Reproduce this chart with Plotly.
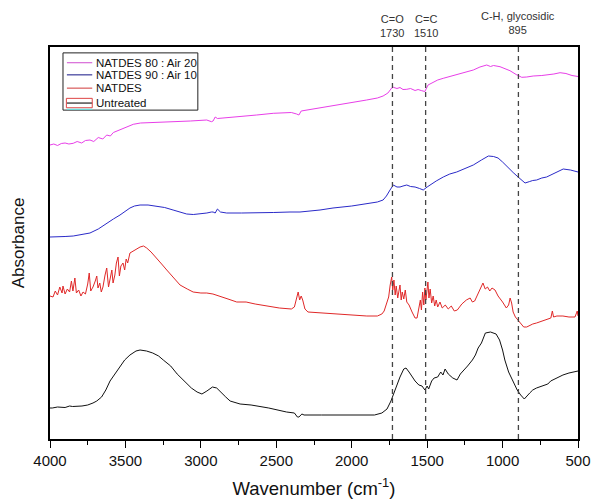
import plotly.graph_objects as go

# ---------------- data ----------------
series_names = ["NATDES 80 : Air 20", "NATDES 90 : Air 10", "NATDES", "Untreated"]
series_colors = ["#e83ee8", "#2a2ac8", "#e02828", "#111111"]
legend_colors = ["#d86ad8", "#3a3a9a", "#d85a5a", "#222222"]

wn_untreated = [4000, 3985, 3950, 3900, 3870, 3850, 3788, 3750, 3715, 3690, 3658, 3630, 3602, 3570,
                3542, 3505, 3470, 3430, 3403, 3360, 3319, 3280, 3249, 3200, 3157, 3110, 3063, 3025,
                2993, 2960, 2923, 2895, 2865, 2835, 2806, 2740, 2667, 2550, 2432, 2380, 2360, 2350,
                2330, 2316, 2200, 2083, 1950, 1849, 1800, 1766, 1740, 1709, 1680, 1655, 1640, 1620,
                1600, 1580, 1555, 1534, 1515, 1500, 1490, 1470, 1454, 1430, 1410, 1395, 1381, 1360,
                1330, 1302, 1280, 1255, 1232, 1200, 1180, 1162, 1140, 1114, 1080, 1043, 1020, 1000,
                985, 960, 930, 903, 880, 856, 820, 800, 775, 740, 700, 681, 640, 600, 560, 530, 500]
abs_untreated = [0.31, 0.31, 0.32, 0.315, 0.33, 0.325, 0.33, 0.34, 0.36, 0.38, 0.42, 0.49, 0.58, 0.65,
                 0.72, 0.79, 0.84, 0.88, 0.89, 0.88, 0.86, 0.83, 0.79, 0.73, 0.65, 0.58, 0.51, 0.47,
                 0.45, 0.48, 0.52, 0.51, 0.47, 0.42, 0.38, 0.35, 0.34, 0.31, 0.27, 0.26, 0.22, 0.22,
                 0.25, 0.24, 0.24, 0.24, 0.24, 0.24, 0.26, 0.30, 0.38, 0.51, 0.62, 0.70, 0.71, 0.67,
                 0.62, 0.58, 0.54, 0.53, 0.49, 0.53, 0.50, 0.58, 0.61, 0.62, 0.67, 0.64, 0.70, 0.65,
                 0.61, 0.59, 0.65, 0.69, 0.73, 0.79, 0.84, 0.91, 0.96, 1.06, 1.07, 1.05, 0.99, 0.89,
                 0.79, 0.67, 0.57, 0.49, 0.44, 0.40, 0.46, 0.49, 0.51, 0.53, 0.55, 0.58, 0.61, 0.64,
                 0.66, 0.67, 0.68]

wn_natdes = [4000, 3980, 3965, 3950, 3935, 3920, 3914, 3900, 3885, 3870, 3858, 3848, 3835, 3825,
             3810, 3795, 3781, 3765, 3750, 3740, 3730, 3715, 3700, 3690, 3682, 3670, 3660, 3649,
             3635, 3624, 3612, 3600, 3590, 3582, 3570, 3560, 3549, 3540, 3530, 3516, 3505, 3495,
             3485, 3470, 3440, 3403, 3380, 3359, 3330, 3293, 3260, 3226, 3180, 3138, 3090, 3051,
             3000, 2961, 2920, 2873, 2820, 2762, 2700, 2640, 2560, 2480, 2400, 2380, 2365, 2355,
             2345, 2335, 2325, 2310, 2290, 2200, 2100, 2000, 1900, 1830, 1800, 1785, 1770, 1755,
             1745, 1735, 1728, 1720, 1712, 1705, 1695, 1688, 1680, 1672, 1665, 1655, 1645, 1635,
             1620, 1600, 1580, 1567, 1555, 1545, 1538, 1530, 1522, 1515, 1508, 1500, 1495, 1488,
             1480, 1470, 1460, 1450, 1440, 1430, 1415, 1400, 1380, 1360, 1340, 1320, 1300, 1270,
             1240, 1215, 1200, 1185, 1170, 1150, 1130, 1115, 1100, 1085, 1070, 1050, 1030, 1000,
             975, 960, 950, 940, 930, 915, 900, 880, 860, 840, 800, 775, 740, 700, 680, 670, 662,
             640, 600, 560, 520, 505, 500]
abs_natdes = [1.43, 1.42, 1.48, 1.44, 1.52, 1.46, 1.53, 1.45, 1.50, 1.47, 1.58, 1.48, 1.61, 1.46,
              1.49, 1.43, 1.47, 1.45, 1.55, 1.66, 1.48, 1.52, 1.58, 1.63, 1.51, 1.56, 1.47, 1.52,
              1.64, 1.71, 1.52, 1.60, 1.69, 1.56, 1.64, 1.76, 1.82, 1.63, 1.73, 1.76, 1.69, 1.80,
              1.76, 1.86, 1.89, 1.92, 1.93, 1.91, 1.87, 1.81, 1.75, 1.69, 1.61, 1.54, 1.50, 1.47,
              1.46, 1.46, 1.45, 1.43, 1.40, 1.37, 1.37, 1.35, 1.33, 1.31, 1.30, 1.32, 1.41, 1.47,
              1.39, 1.43, 1.39, 1.30, 1.27, 1.26, 1.25, 1.24, 1.23, 1.23, 1.25, 1.28, 1.34, 1.42,
              1.54, 1.62, 1.49, 1.59, 1.44, 1.53, 1.41, 1.49, 1.54, 1.39, 1.47, 1.40, 1.49, 1.37,
              1.34, 1.27, 1.21, 1.21, 1.31, 1.39, 1.29, 1.47, 1.34, 1.51, 1.39, 1.56, 1.57, 1.41,
              1.50, 1.36, 1.43, 1.33, 1.39, 1.32, 1.37, 1.31, 1.34, 1.30, 1.33, 1.28, 1.29, 1.35,
              1.39, 1.41, 1.37, 1.38, 1.43, 1.49, 1.56, 1.50, 1.52, 1.48, 1.51, 1.49, 1.43, 1.37,
              1.31, 1.34, 1.41, 1.36, 1.27, 1.22, 1.19, 1.15, 1.12, 1.12, 1.15, 1.16, 1.18, 1.20,
              1.21, 1.28, 1.22, 1.23, 1.23, 1.22, 1.22, 1.28, 1.23]

wn_n90 = [4000, 3990, 3900, 3846, 3790, 3735, 3680, 3624, 3580, 3536, 3500, 3470, 3440, 3403, 3350,
          3293, 3240, 3184, 3140, 3094, 3050, 3006, 2960, 2930, 2919, 2905, 2890, 2870, 2829, 2730,
          2630, 2520, 2409, 2343, 2210, 2124, 2000, 1901, 1830, 1792, 1770, 1746, 1724, 1700, 1680,
          1660, 1635, 1610, 1580, 1550, 1526, 1500, 1481, 1440, 1393, 1350, 1304, 1250, 1194, 1140,
          1094, 1060, 1030, 1000, 963, 930, 897, 870, 851, 820, 800, 774, 740, 708, 650, 598, 550,
          508, 500]
abs_n90 = [2.02, 2.02, 2.025, 2.03, 2.045, 2.06, 2.10, 2.16, 2.20, 2.24, 2.28, 2.31, 2.33, 2.34, 2.34,
           2.33, 2.315, 2.29, 2.27, 2.25, 2.245, 2.25, 2.26, 2.27, 2.27, 2.26, 2.30, 2.27, 2.26, 2.26,
           2.26, 2.265, 2.27, 2.27, 2.29, 2.31, 2.33, 2.35, 2.37, 2.39, 2.43, 2.49, 2.54, 2.52, 2.52,
           2.53, 2.54, 2.525, 2.52, 2.505, 2.49, 2.52, 2.54, 2.58, 2.62, 2.65, 2.67, 2.705, 2.74, 2.79,
           2.83, 2.825, 2.81, 2.77, 2.71, 2.665, 2.62, 2.58, 2.56, 2.575, 2.585, 2.59, 2.61, 2.62,
           2.66, 2.70, 2.69, 2.67, 2.67]

wn_n80 = [4000, 3975, 3950, 3925, 3900, 3875, 3846, 3820, 3790, 3765, 3735, 3710, 3680, 3650, 3624,
          3600, 3580, 3536, 3490, 3448, 3400, 3337, 3260, 3184, 3070, 2961, 2930, 2919, 2905, 2890,
          2800, 2740, 2630, 2520, 2400, 2365, 2350, 2335, 2210, 2124, 2000, 1901, 1830, 1792, 1760,
          1735, 1724, 1700, 1680, 1660, 1635, 1610, 1580, 1560, 1536, 1515, 1494, 1460, 1430, 1393,
          1340, 1282, 1240, 1194, 1150, 1105, 1080, 1060, 1017, 985, 951, 910, 873, 840, 797, 740,
          700, 660, 619, 580, 540, 508, 500]
abs_n80 = [2.94, 2.95, 2.935, 2.955, 2.96, 2.95, 2.957, 2.975, 2.96, 2.985, 2.99, 2.975, 3.015, 3.00,
           3.04, 3.03, 3.065, 3.09, 3.12, 3.147, 3.16, 3.163, 3.17, 3.173, 3.18, 3.19, 3.173, 3.18,
           3.22, 3.205, 3.215, 3.223, 3.24, 3.257, 3.265, 3.25, 3.24, 3.28, 3.31, 3.33, 3.36, 3.39,
           3.41, 3.43, 3.46, 3.51, 3.517, 3.505, 3.515, 3.495, 3.497, 3.505, 3.485, 3.495, 3.483,
           3.475, 3.54, 3.57, 3.59, 3.607, 3.63, 3.65, 3.67, 3.69, 3.72, 3.74, 3.725, 3.735, 3.723,
           3.705, 3.683, 3.645, 3.617, 3.62, 3.63, 3.635, 3.64, 3.65, 3.663, 3.655, 3.635, 3.63,
           3.625]

band_positions = [1730, 1510, 895]
band_labels = ["C=O<br>1730", "C=C<br>1510", "C-H, glycosidic<br>895"]

x_tick_values = [4000, 3500, 3000, 2500, 2000, 1500, 1000, 500]
x_tick_labels = ["4000", "3500", "3000", "2500", "2000", "1500", "1000", "500"]

# ---------------- figure ----------------
FONT = "Liberation Sans, Arial, sans-serif"
fig = go.Figure()

all_x = [wn_n80, wn_n90, wn_natdes, wn_untreated]
all_y = [abs_n80, abs_n90, abs_natdes, abs_untreated]
for name, color, xs, ys in zip(series_names, series_colors, all_x, all_y):
    fig.add_trace(go.Scatter(x=xs, y=ys, mode="lines", name=name,
                             line=dict(color=color, width=1), showlegend=False))

# dashed reference lines
for pos in band_positions:
    fig.add_shape(type="line", xref="x", yref="paper", x0=pos, x1=pos, y0=0, y1=1,
                  line=dict(color="#444444", width=1.3, dash="5px,4px"))

# band labels above the frame
label_shift = [6, 6, 9]
for pos, lab, sh in zip(band_positions, band_labels, label_shift):
    fig.add_annotation(x=pos, xref="x", y=1.0, yref="paper", yanchor="bottom",
                       text=lab, showarrow=False, yshift=sh,
                       font=dict(family=FONT, size=11, color="#333333"))

# hand-drawn legend box (matches the compact original legend)
lx0, lx1, ly_top, ly_bot = 0.0246, 0.280, 0.985, 0.839
fig.add_shape(type="rect", xref="paper", yref="paper", x0=lx0, x1=lx1, y0=ly_bot, y1=ly_top,
              line=dict(color="#222222", width=1), fillcolor="white", layer="above")
entry_y = [0.960, 0.929, 0.895, 0.857]
for name, col, yy in zip(series_names, legend_colors, entry_y):
    fig.add_shape(type="line", xref="paper", yref="paper", x0=0.032, x1=0.080, y0=yy, y1=yy,
                  line=dict(color=col, width=1.2), layer="above")
    fig.add_annotation(x=0.083, xref="paper", y=yy, yref="paper", xanchor="left",
                       yanchor="middle", text=name, showarrow=False,
                       font=dict(family=FONT, size=11.5, color="#111111"))
# small artefacts around the "Untreated" legend symbol in the original
fig.add_shape(type="rect", xref="paper", yref="paper", x0=0.031, x1=0.080,
              y0=entry_y[3] - 0.012, y1=entry_y[3] + 0.012,
              line=dict(color="#dd4444", width=1), layer="above")
fig.add_shape(type="line", xref="paper", yref="paper", x0=0.032, x1=0.080,
              y0=ly_bot + 0.002, y1=ly_bot + 0.002,
              line=dict(color="#66dddd", width=1.2), layer="above")

fig.update_layout(
    width=592, height=501,
    margin=dict(l=50, r=14, t=47, b=62, autoexpand=False),
    paper_bgcolor="white", plot_bgcolor="white",
    font=dict(family=FONT, color="#111111"),
    xaxis=dict(range=[4000, 500], tickvals=x_tick_values, ticktext=x_tick_labels,
               automargin=False,
               ticks="outside", ticklen=7, tickwidth=1.3, tickcolor="black",
               minor=dict(tickvals=[3750, 3250, 2750, 2250, 1750, 1250, 750],
                          ticks="outside", ticklen=4, tickcolor="black", tickwidth=1),
               showline=True, linecolor="black", linewidth=1.6, mirror=True,
               showgrid=False, zeroline=False,
               tickfont=dict(family=FONT, size=15, color="#111111"),
               title=dict(text="Wavenumber (cm<sup>-1</sup>)", standoff=14,
                          font=dict(family=FONT, size=18.5, color="#111111"))),
    yaxis=dict(range=[0, 3.92], showticklabels=False, ticks="",
               automargin=False,
               showline=True, linecolor="black", linewidth=1.6, mirror=True,
               showgrid=False, zeroline=False,
               title=dict(text="Absorbance", standoff=19,
                          font=dict(family=FONT, size=17, color="#111111"))),
)

fig.write_html("out.html", config={"displayModeBar": False},
               post_script="document.body.style.margin='0';document.body.style.overflow='hidden';")
